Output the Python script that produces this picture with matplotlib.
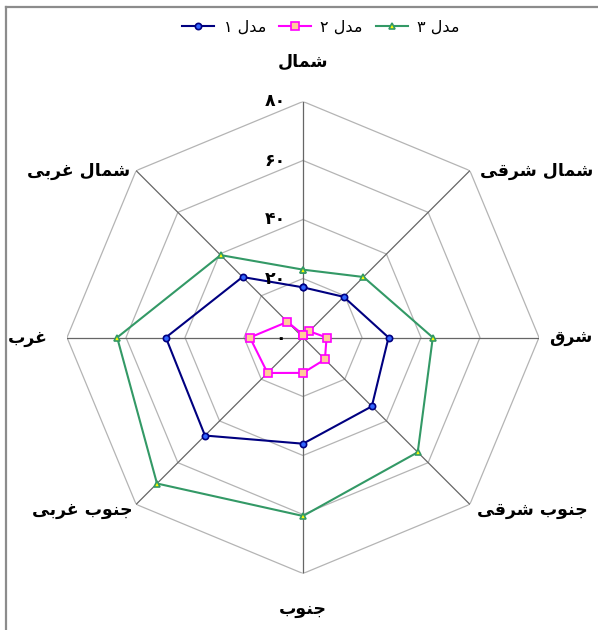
import numpy as np
import matplotlib
matplotlib.use("Agg")
import matplotlib.pyplot as plt
from matplotlib.lines import Line2D

plt.rcParams['font.family'] = ['DejaVu Sans']

# ---------------- data ----------------
categories = ['شمال', 'شمال شرقی', 'شرق', 'جنوب شرقی', 'جنوب', 'جنوب غربی', 'غرب', 'شمال غربی']
series_names = ['مدل ۱', 'مدل ۲', 'مدل ۳']
model1 = [17, 19.5, 29, 33, 36, 47, 46.5, 29]
model2 = [1, 3, 8, 10.5, 12, 17, 18, 7.5]
model3 = [23, 29, 44, 55, 60.5, 70, 63, 39.5]
ring_values = [0, 20, 40, 60, 80]
ring_labels = ['۰', '۲۰', '۴۰', '۶۰', '۸۰']

# ---------------- Arabic/Persian shaping (manual) ----------------
FORMS = {
    'ا': (0xFE8D, 0xFE8E, None, None),
    'ب': (0xFE8F, 0xFE90, 0xFE91, 0xFE92),
    'ج': (0xFE9D, 0xFE9E, 0xFE9F, 0xFEA0),
    'د': (0xFEA9, 0xFEAA, None, None),
    'ر': (0xFEAD, 0xFEAE, None, None),
    'ش': (0xFEB5, 0xFEB6, 0xFEB7, 0xFEB8),
    'غ': (0xFECD, 0xFECE, 0xFECF, 0xFED0),
    'ق': (0xFED5, 0xFED6, 0xFED7, 0xFED8),
    'ل': (0xFEDD, 0xFEDE, 0xFEDF, 0xFEE0),
    'م': (0xFEE1, 0xFEE2, 0xFEE3, 0xFEE4),
    'ن': (0xFEE5, 0xFEE6, 0xFEE7, 0xFEE8),
    'و': (0xFEED, 0xFEEE, None, None),
    'ی': (0xFEEF, 0xFEF0, 0xFBFE, 0xFBFF),
}


def dual(c):
    return c in FORMS and FORMS[c][2] is not None


def shape(text):
    out = []
    n = len(text)
    for i, c in enumerate(text):
        if c not in FORMS:
            out.append(c)
            continue
        prev = text[i - 1] if i > 0 else ''
        nxt = text[i + 1] if i < n - 1 else ''
        jp = dual(prev)
        jn = dual(c) and (nxt in FORMS)
        iso, fin, ini, med = FORMS[c]
        if jp and jn:
            code = med
        elif jp:
            code = fin
        elif jn:
            code = ini
        else:
            code = iso
        out.append(chr(code))
    return ''.join(out)[::-1]


# ---------------- figure ----------------
W, H = 598, 630
fig = plt.figure(figsize=(W / 100, H / 100), dpi=100)

cx, cy, R = 303, 337.5, 236
ax = fig.add_axes([(cx - R) / W, (H - cy - R) / H, 2 * R / W, 2 * R / H], projection='polar')
ax.set_theta_zero_location('N')
ax.set_theta_direction(-1)
ax.set_ylim(0, 80)
ax.axis('off')

N = len(categories)
angles = np.arange(N) * 2 * np.pi / N
closed = np.append(angles, angles[0])

# rings
for v in ring_values[1:]:
    ax.plot(closed, [v] * (N + 1), color='#b4b4b4', lw=0.9, zorder=1)
# spokes
for a in angles:
    ax.plot([a, a], [0, 80], color='#666666', lw=0.9, zorder=1)

# series
styles = [
    dict(color='#000080', marker='o', mfc='#3366ff', mec='#000080', ms=4.5),
    dict(color='#ff00ff', marker='s', mfc='#ffcc99', mec='#ff00ff', ms=5.5),
    dict(color='#339966', marker='^', mfc='#ffff00', mec='#339966', ms=5),
]
handles = []
for vals, st, name in zip([model1, model2, model3], styles, series_names):
    v = list(vals) + [vals[0]]
    ax.plot(closed, v, lw=1.5, mew=1.2, zorder=3, clip_on=False, **st)
    handles.append(Line2D([], [], lw=1.5, mew=1.2, **st))

# radial tick labels
for v, lab in zip(ring_values, ring_labels):
    ax.annotate(lab, xy=(0, v), xytext=(-17, 0), textcoords='offset pixels',
                ha='right', va='center', fontsize=12.5, fontweight='bold', zorder=4)

# category labels
offsets = [
    ((0, 40), 'center', 'center'),
    ((10, 0), 'left', 'center'),
    ((10, 0), 'left', 'center'),
    ((7, -6), 'left', 'center'),
    ((0, -36), 'center', 'center'),
    ((-3, -6), 'right', 'center'),
    ((-19, 0), 'right', 'center'),
    ((-6, 0), 'right', 'center'),
]
for a, cat, (off, ha, va) in zip(angles, categories, offsets):
    ax.annotate(shape(cat), xy=(a, 80), xytext=off, textcoords='offset pixels',
                ha=ha, va=va, fontsize=12.5, fontweight='bold', annotation_clip=False)

leg = fig.legend(handles, [shape(s) for s in series_names], ncol=3, loc='center',
                 bbox_to_anchor=(321 / W, 1 - 27 / H), frameon=False, fontsize=11.5,
                 handlelength=2.0, columnspacing=0.8, handletextpad=0.6)

# chart area border (top and left)
fig.add_artist(Line2D([6 / W, 6 / W], [0, 1 - 7 / H], transform=fig.transFigure,
                      color='#8c8c8c', lw=1.6))
fig.add_artist(Line2D([6 / W, 1], [1 - 7 / H, 1 - 7 / H], transform=fig.transFigure,
                      color='#8c8c8c', lw=1.6))

fig.savefig('out.png', dpi=100)
